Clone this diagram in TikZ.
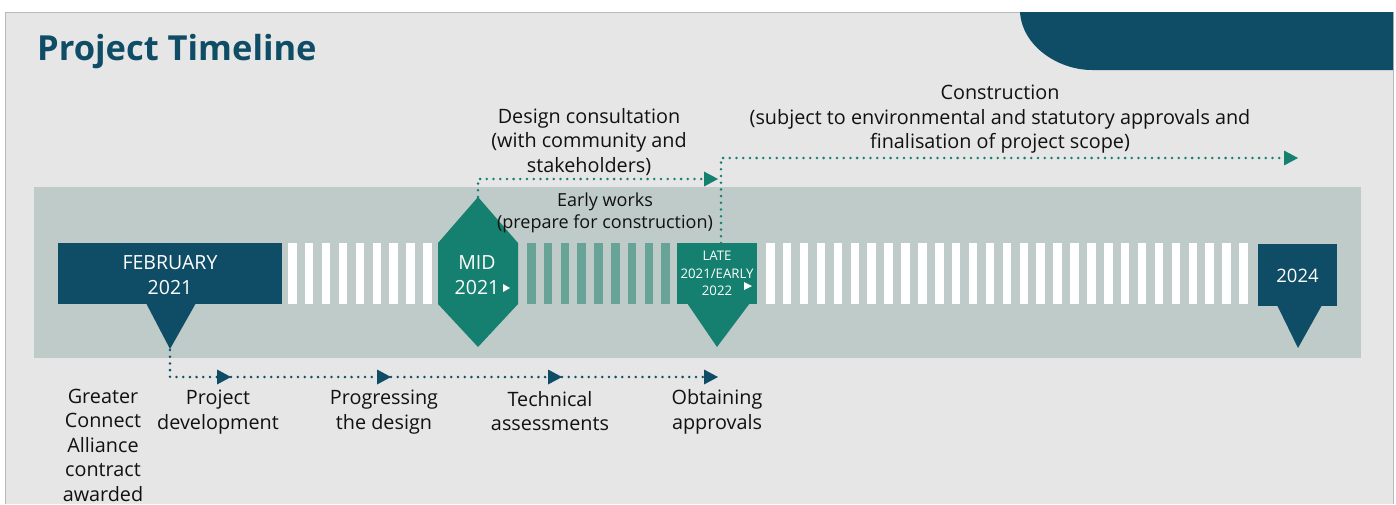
\documentclass[tikz,border=0pt]{standalone}
\usepackage{fontspec}
\setmainfont{Open Sans}
\usetikzlibrary{arrows.meta}
\definecolor{dblue}{HTML}{0F4D66}
\definecolor{tgreen}{HTML}{15806F}
\definecolor{bandc}{HTML}{BFCBC8}
\definecolor{panelc}{HTML}{E6E6E6}
\definecolor{tstripe}{HTML}{68A398}
\definecolor{txt}{HTML}{111111}
\tikzset{
  lbl/.style={align=center, text=txt, inner sep=0pt, font=\fontsize{19.8}{24.5}\selectfont},
  boxtxt/.style={align=center, text=white, inner sep=0pt, font=\fontsize{19.5}{25}\selectfont},
  dotline/.style={line width=2.8pt, line cap=round, dash pattern=on 0pt off 6.7pt},
  tip/.style={-{Triangle[length=14pt,width=15pt,line width=0pt]}},
}
\begin{document}
\begin{tikzpicture}[x=1pt,y=-1pt]
\useasboundingbox (0,0) rectangle (1396,504);
\fill[white] (0,0) rectangle (1396,504);
% panel
\fill[panelc] (5,12) rectangle (1393,504);
\draw[gray!55, line width=1pt] (5,504) -- (5,12) -- (1393,12) -- (1393,504);
% top-right shape
\fill[dblue] (1020,12) .. controls (1022,46) and (1058,70) .. (1092,70) -- (1393,70) -- (1393,12) -- cycle;
% title
\node[anchor=base west, inner sep=0pt, text=dblue, font=\fontsize{34.5}{40}\selectfont\bfseries] (title) at (37,60) {Project Timeline};
% band
\fill[bandc] (34,187) rectangle (1361,358);
% stripes
\foreach \i in {0,...,8} \fill[white] ({288+16.9*\i},243) rectangle ++(8.5,61);
\foreach \i in {0,...,8} \fill[tstripe] ({527+16.8*\i},243) rectangle ++(8.5,61);
\foreach \i in {0,...,28} \fill[white] ({766+16.9*\i},243) rectangle ++(8.5,61);
% February
\fill[dblue] (58,243) rectangle (282,304);
\fill[dblue] (146,303) -- (170,349) -- (196,303) -- cycle;
\node[boxtxt] (feb) at (170,275) {FEBRUARY\\2021};
\coordinate (febtip) at (170,350);
% MID
\fill[tgreen] (438,243) -- (478,197) -- (518,243) -- (518,304) -- (478,347) -- (438,304) -- cycle;
\node[boxtxt] (mid) at (477,275.5) {MID\\2021\hspace{9pt}};
\fill[white] (503,284) -- (510,288) -- (503,292) -- cycle;
\coordinate (midtop) at (478,197);
% LATE
\fill[tgreen] (677,243) rectangle (757,304);
\fill[tgreen] (687,303) -- (717,347) -- (750,303) -- cycle;
\node[boxtxt, font=\fontsize{13.2}{17.5}\selectfont] (late) at (717,273.5) {LATE\\2021/EARLY\\2022};
\fill[white] (744,282) -- (752,286) -- (744,290) -- cycle;
\coordinate (latetop) at (721,243);
% 2024
\fill[dblue] (1258,244) rectangle (1337,306);
\fill[dblue] (1277,305) -- (1298,348) -- (1322,305) -- cycle;
\node[boxtxt, font=\fontsize{18.5}{25}\selectfont] (y2024) at (1297.5,276) {2024};
% upper connectors
\coordinate (dc1) at (478,179);
\coordinate (dcend) at (718,179);
\draw[dotline, tgreen, tip] (midtop) -- (dc1) -- (dcend);
\coordinate (cc1) at (721,158);
\coordinate (ccend) at (1298,158);
\draw[dotline, tgreen, tip] (latetop) -- (cc1) -- (ccend);
% bottom connectors
\coordinate (b0) at (170,377);
\coordinate (a1) at (231,377);
\coordinate (a2) at (391,377);
\coordinate (a3) at (562,377);
\coordinate (a4) at (718,377);
\draw[dotline, dblue, tip] (febtip) -- (b0) -- (a1);
\draw[dotline, dblue, tip] (a1) -- (a2);
\draw[dotline, dblue, tip] (a2) -- (a3);
\draw[dotline, dblue, tip] (a3) -- (a4);
% labels
\node[lbl] (design) at (589,142) {Design consultation\\(with community and\\stakeholders)};
\node[lbl, font=\fontsize{18}{22}\selectfont] (early) at (605,213) {Early works\\(prepare for construction)};
\node[lbl] (constr) at (1000,119.5) {Construction\\(subject to environmental and statutory approvals and\\finalisation of project scope)};
\node[lbl] (gca) at (103,445) {Greater\\Connect\\Alliance\\contract\\awarded};
\node[lbl] (pd) at (218,412) {Project\\development};
\node[lbl] (pg) at (384,412) {Progressing\\the design};
\node[lbl] (ta) at (550,411) {Technical\\assessments};
\node[lbl] (oa) at (717,412) {Obtaining\\approvals};
\end{tikzpicture}
\end{document}
